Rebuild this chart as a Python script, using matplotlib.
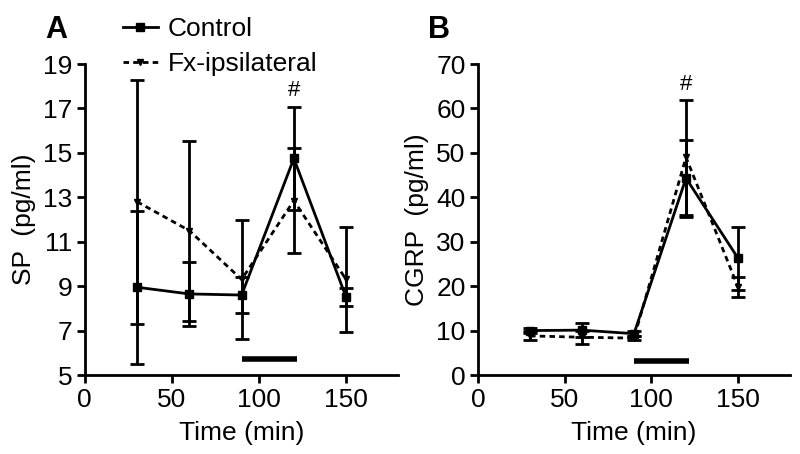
import matplotlib
matplotlib.use("Agg")
import matplotlib.pyplot as plt

plt.rcParams['font.family'] = ['Liberation Sans', 'DejaVu Sans']

time = [30, 60, 90, 120, 150]

# Panel A: SP (pg/ml)
sp_control = [8.95, 8.65, 8.6, 14.75, 8.5]
sp_control_err = [3.45, 1.45, 0.8, 2.3, 0.4]
sp_fx = [12.8, 11.5, 9.3, 12.85, 9.3]
sp_fx_err = [5.5, 4.05, 2.7, 2.35, 2.35]

# Panel B: CGRP (pg/ml)
cgrp_control = [10.0, 10.1, 9.3, 44.3, 26.3]
cgrp_control_err = [0.6, 1.5, 0.6, 8.7, 7.1]
cgrp_fx = [8.8, 8.5, 8.3, 49.0, 19.8]
cgrp_fx_err = [1.0, 1.5, 0.5, 13.0, 2.2]

stim_window = [90, 122]
xticks = [0, 50, 100, 150]
sp_yticks = [5, 7, 9, 11, 13, 15, 17, 19]
cgrp_yticks = [0, 10, 20, 30, 40, 50, 60, 70]

FS = 19
fig = plt.figure(figsize=(8, 4.54), dpi=100)
axA = fig.add_axes([0.106, 0.174, 0.392, 0.685])
axB = fig.add_axes([0.5975, 0.174, 0.39, 0.685])


def draw(ax, ctrl, ctrl_err, fx, fx_err, ylim, yticks, ylabel, bar_y, hash_y):
    ax.errorbar(time, ctrl, yerr=ctrl_err, color='black', lw=2, marker='s', ms=6,
                capsize=5, capthick=2, elinewidth=2, label='Control', zorder=3)
    ax.errorbar(time, fx, yerr=fx_err, color='black', lw=2, ls=(0, (2, 1.5)), marker='v', ms=5,
                capsize=5, capthick=2, elinewidth=2, label='Fx-ipsilateral', zorder=3)
    ax.plot(stim_window, [bar_y, bar_y], color='black', lw=4, solid_capstyle='butt')
    ax.text(120, hash_y, '#', ha='center', va='bottom', fontsize=16)
    ax.set_xlim(0, 180)
    ax.set_ylim(*ylim)
    ax.set_xticks(xticks)
    ax.set_yticks(yticks)
    ax.spines['top'].set_visible(False)
    ax.spines['right'].set_visible(False)
    for s in ('left', 'bottom'):
        ax.spines[s].set_linewidth(2)
    ax.tick_params(width=2, length=6, labelsize=FS, pad=3)
    ax.set_xlabel('Time (min)', fontsize=FS, labelpad=7)
    ax.set_ylabel(ylabel, fontsize=FS, labelpad=5)


draw(axA, sp_control, sp_control_err, sp_fx, sp_fx_err, (5, 19), sp_yticks,
     'SP  (pg/ml)', 5.72, 17.35)
draw(axB, cgrp_control, cgrp_control_err, cgrp_fx, cgrp_fx_err, (0, 70), cgrp_yticks,
     'CGRP  (pg/ml)', 3.1, 63)

h, l = axA.get_legend_handles_labels()
h = [hh[0] for hh in h]
fig.legend(h, l, loc='upper left', bbox_to_anchor=(0.154, 0.962), frameon=False,
           fontsize=FS, handlelength=1.3, handletextpad=0.4, labelspacing=0.42,
           borderaxespad=0, borderpad=0)

fig.text(0.056, 0.935, 'A', fontsize=22, fontweight='bold', va='center')
fig.text(0.535, 0.935, 'B', fontsize=22, fontweight='bold', va='center')

fig.savefig('out.png', dpi=100)
